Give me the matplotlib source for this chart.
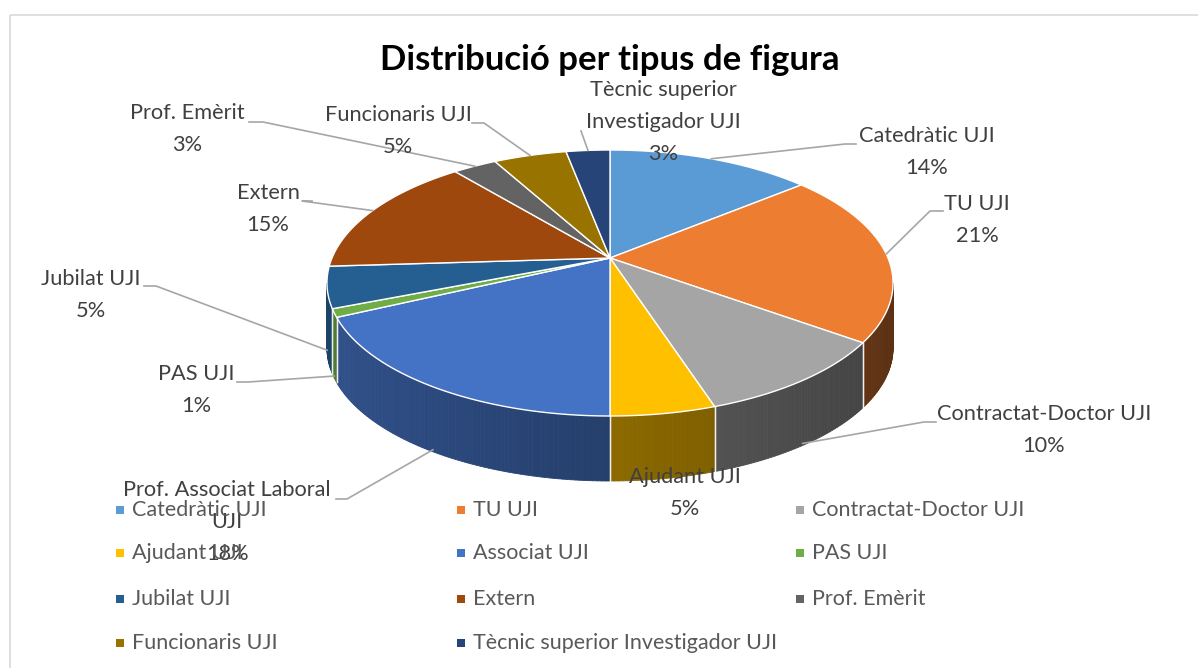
import numpy as np
import matplotlib.pyplot as plt
from matplotlib.patches import Polygon, Rectangle
from matplotlib.colors import to_rgb

plt.rcParams['font.family'] = ['Lato', 'DejaVu Sans']

# data
categories = ["Catedràtic UJI", "TU UJI", "Contractat-Doctor UJI", "Ajudant UJI",
              "Associat UJI", "PAS UJI", "Jubilat UJI", "Extern", "Prof. Emèrit",
              "Funcionaris UJI", "Tècnic superior Investigador UJI"]
label_names = ["Catedràtic UJI", "TU UJI", "Contractat-Doctor UJI", "Ajudant UJI",
               "Prof. Associat Laboral\nUJI", "PAS UJI", "Jubilat UJI", "Extern",
               "Prof. Emèrit", "Funcionaris UJI", "Tècnic superior\nInvestigador UJI"]
percent = [14, 21, 10, 5, 18, 1, 5, 15, 3, 5, 3]
colors = ["#5B9BD5", "#ED7D31", "#A5A5A5", "#FFC000", "#4472C4", "#70AD47",
          "#255E91", "#9E480E", "#636363", "#997300", "#264478"]

# layout (pixel coords, y down)
W, H = 1198, 668
cx, cy = 610, 283          # centre of the projected ellipse
A, B, E = 278, 133, 25     # perspective projection of the disc
c = E / B
depth = 65
label_xy = [(927, 152), (977, 220), (1044, 430), (685, 493), (227, 522),
            (196, 390), (91, 295), (268, 209), (187, 129), (398, 131), (663, 122)]
elbows = [[(856, 144), (845, 144)], [(943, 211), (930, 211)], [(936, 422), (924, 422)],
          None, [(336, 499), (347, 499)], [(237, 382), (248, 382)],
          [(144, 286), (156, 286)], [(312, 201), (302, 201)], [(249, 122), (263, 122)],
          [(472, 123), (484, 123)], [(581, 131)]]


def rim(t):
    u, v = np.sin(t), np.cos(t)
    d = 1 + c * v
    return cx + A * u / d, cy - (B * v + E) / d


fig = plt.figure(figsize=(W / 100, H / 100), dpi=100)
ax = fig.add_axes([0, 0, 1, 1])
ax.set_xlim(0, W)
ax.set_ylim(H, 0)
ax.axis('off')

ax.add_patch(Rectangle((10, 15), W + 20, H + 20, fill=False, ec="#D9D9D9", lw=1.2))

frac = np.array(percent) / sum(percent)
edges = np.concatenate([[0], np.cumsum(frac)]) * 2 * np.pi
front0 = np.arccos(-c)
front1 = 2 * np.pi - front0

# side walls
for i in range(len(percent)):
    t0, t1 = max(edges[i], front0), min(edges[i + 1], front1)
    if t1 <= t0:
        continue
    ts = np.linspace(t0, t1, max(int((t1 - t0) * 80), 2))
    base = np.array(to_rgb(colors[i]))
    for a, b in zip(ts[:-1], ts[1:]):
        xa, ya = rim(a)
        xb, yb = rim(b)
        k = 0.72 - 0.34 * (np.sin((a + b) / 2) + 1) / 2
        col = base * k
        ax.add_patch(Polygon([(xa, ya), (xb, yb), (xb, yb + depth), (xa, ya + depth)],
                             closed=True, fc=col, ec=col, lw=0.6))
    for t in (edges[i], edges[i + 1]):
        if front0 < t < front1:
            x, y = rim(t)
            ax.plot([x, x], [y, y + depth], color="white", lw=1, alpha=0.7)

# top faces
apex = (cx, cy - E)
for i in range(len(percent)):
    ts = np.linspace(edges[i], edges[i + 1], max(int((edges[i + 1] - edges[i]) * 60), 3))
    pts = [apex] + [rim(t) for t in ts]
    ax.add_patch(Polygon(pts, closed=True, fc=colors[i], ec="white", lw=1.0,
                         joinstyle="round"))

# data labels with leader lines
for i in range(len(percent)):
    tm = (edges[i] + edges[i + 1]) / 2
    x, y = rim(tm)
    if front0 < tm < front1:
        y += depth - 2
    if elbows[i] is not None:
        path = elbows[i] + [(x, y)]
        ax.plot([p[0] for p in path], [p[1] for p in path], color="#A6A6A6", lw=1.2)
    lx, ly = label_xy[i]
    ax.text(lx, ly, f"{label_names[i]}\n{percent[i]}%", ha="center", va="center",
            fontsize=15.7, color="#404040", linespacing=1.72)

ax.text(610, 60, "Distribució per tipus de figura", ha="center", va="center",
        fontsize=25, fontweight="bold", color="black")

# legend, row by row in 3 columns
col_x = [120, 461, 800]
row_y = [510, 553, 599, 643]
for i, name in enumerate(categories):
    r, k = divmod(i, 3)
    ax.scatter(col_x[k], row_y[r], marker="s", s=30, color=colors[i], linewidths=0)
    ax.text(col_x[k] + 12, row_y[r], name, ha="left", va="center",
            fontsize=15.5, color="#595959")

plt.savefig("out.png", dpi=100)
